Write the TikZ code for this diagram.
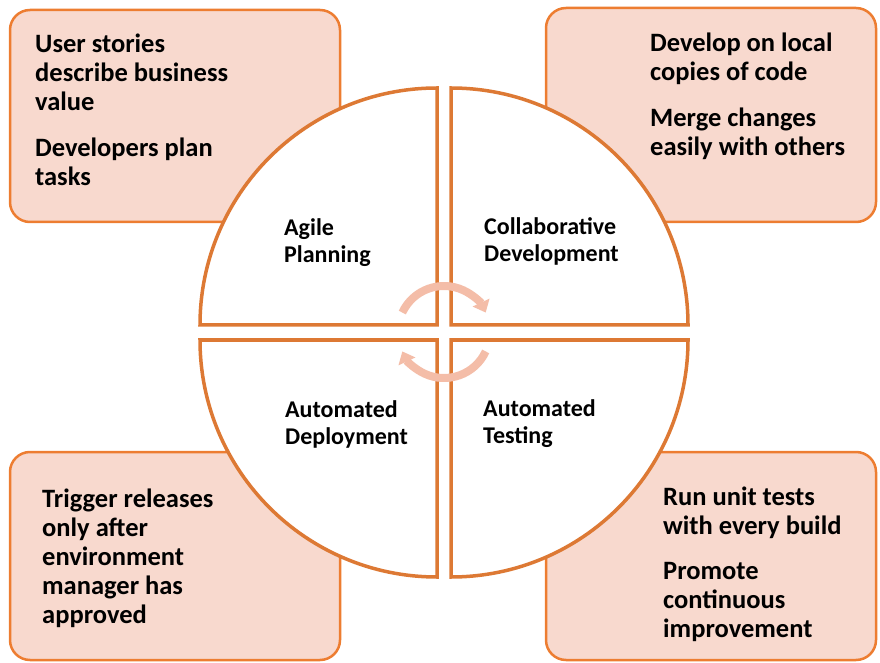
\documentclass[tikz,border=0pt]{standalone}
\usepackage{fontspec}
\setmainfont{Carlito}
\usetikzlibrary{arrows.meta}
\definecolor{boxfill}{RGB}{248,217,206}
\definecolor{boxline}{RGB}{237,125,49}
\definecolor{quadline}{RGB}{221,121,52}
\definecolor{cyc}{RGB}{244,189,168}
\newcommand{\tstrut}{\rule{0pt}{20pt}}
\begin{document}
\begin{tikzpicture}[x=1pt,y=1pt,
  infobox/.style={draw=boxline, line width=2.5pt, fill=boxfill, rounded corners=20pt},
  quad/.style={draw=quadline, line width=3.5pt, fill=white, line join=miter},
  boxtext/.style={anchor=north west, inner sep=0pt, align=left, font=\fontsize{26.5}{29}\selectfont\bfseries},
  quadtext/.style={anchor=north west, inner sep=0pt, align=left, font=\fontsize{24}{27}\selectfont\bfseries},
  cycarrow/.style={draw=cyc, line width=8pt, -{Triangle[width=18pt,length=11pt]}}
]
\useasboundingbox (0,0) rectangle (880,662);
% corner boxes
\path[infobox] (10,440) rectangle (340,652);
\path[infobox] (546,440) rectangle (876,654);
\path[infobox] (10,2) rectangle (340,210);
\path[infobox] (546,2) rectangle (876,210);
% quadrants
\path[quad] (437,337) -- (200,337) arc[start angle=180, end angle=90, radius=237] -- cycle;
\path[quad] (451,337) -- (451,574) arc[start angle=90, end angle=0, radius=237] -- cycle;
\path[quad] (437,322) -- (437,85) arc[start angle=270, end angle=180, radius=237] -- cycle;
\path[quad] (451,322) -- (688,322) arc[start angle=0, end angle=-90, radius=237] -- cycle;
% box texts
\node[boxtext] (tltext) at (35,630) {\tstrut User stories\\describe business\\value\\[17pt]Developers plan\\tasks};
\node[boxtext] (trtext) at (650,631) {\tstrut Develop on local\\copies of code\\[17pt]Merge changes\\easily with others};
\node[boxtext] (bltext) at (42,175) {\tstrut Trigger releases\\only after\\environment\\manager has\\approved};
\node[boxtext] (brtext) at (663,177) {\tstrut Run unit tests\\with every build\\[16pt]Promote\\continuous\\improvement};
% quadrant labels
\node[quadtext] (plan) at (284,447) {\tstrut Agile\\Planning};
\node[quadtext] (dev) at (484,448) {\tstrut Collaborative\\Development};
\node[quadtext] (deploy) at (285,265) {\tstrut Automated\\Deployment};
\node[quadtext] (test) at (483,266) {\tstrut Automated\\Testing};
% cycle arrows
\coordinate (cc) at (444,330);
\draw[cycarrow] ([shift={(155:46)}]cc) arc[start angle=155, end angle=25, radius=46];
\draw[cycarrow] ([shift={(-25:46)}]cc) arc[start angle=-25, end angle=-155, radius=46];
\end{tikzpicture}
\end{document}
